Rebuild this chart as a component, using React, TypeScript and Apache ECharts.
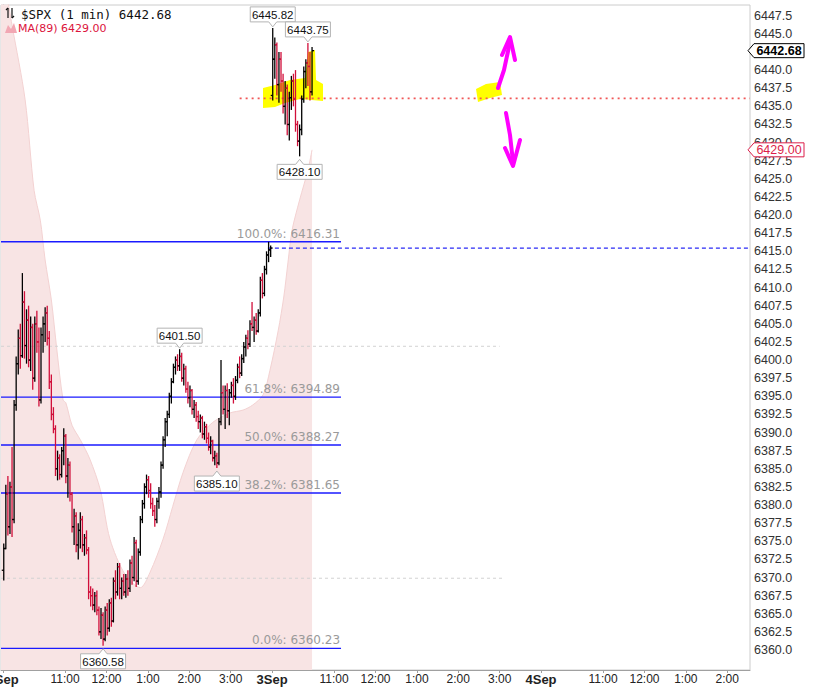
import React, { useEffect, useRef } from 'react';
import * as echarts from 'echarts';

// ---- time axis (minutes from 2 Sep 09:30) ----
const X_MIN = -3;
const X_MAX = 1083;
const BAR_SPAN = 3; // each drawn bar covers 3 one-minute bars
const day1Start = 0; // 2 Sep 09:30
const day2Start = 390; // 3 Sep 09:30

const xTickMinutes = [0, 90, 150, 210, 270, 330, 390, 480, 540, 600, 660, 720, 780, 870, 930, 990, 1050];
const xTickLabels = ['2Sep', '11:00', '12:00', '1:00', '2:00', '3:00', '3Sep', '11:00', '12:00', '1:00', '2:00', '3:00', '4Sep', '11:00', '12:00', '1:00', '2:00'];
const xTickBold = [true, false, false, false, false, false, true, false, false, false, false, false, true, false, false, false, false];

const yTicks = [
  6360.0, 6362.5, 6365.0, 6367.5, 6370.0, 6372.5, 6375.0, 6377.5, 6380.0, 6382.5,
  6385.0, 6387.5, 6390.0, 6392.5, 6395.0, 6397.5, 6400.0, 6402.5, 6405.0, 6407.5,
  6410.0, 6412.5, 6415.0, 6417.5, 6420.0, 6422.5, 6425.0, 6427.5, 6430.0, 6432.5,
  6435.0, 6437.5, 6440.0, 6442.5, 6445.0, 6447.5,
];
// 6442.5 is hidden behind the last-price tag in the reference
const yLabels = [
  6360.0, 6362.5, 6365.0, 6367.5, 6370.0, 6372.5, 6375.0, 6377.5, 6380.0, 6382.5,
  6385.0, 6387.5, 6390.0, 6392.5, 6395.0, 6397.5, 6400.0, 6402.5, 6405.0, 6407.5,
  6410.0, 6412.5, 6415.0, 6417.5, 6420.0, 6422.5, 6425.0, 6427.5, 6430.0, 6432.5,
  6435.0, 6437.5, 6440.0, 6445.0, 6447.5,
];
const Y_MIN = 6357.24;
const Y_MAX = 6448.98;

// ---- price bars [open, high, low, close] ----
const day1Bars = [
  [6371.0, 6374.7, 6369.6, 6374.0], [6374.0, 6382.8, 6373.9, 6381.5], [6381.5, 6384.0, 6375.8, 6377.0], [6377.0, 6383.2, 6376.0, 6382.5],
  [6382.5, 6388.0, 6375.6, 6378.0], [6378.0, 6394.5, 6377.5, 6393.8], [6393.8, 6400.5, 6393.0, 6399.5], [6399.5, 6404.2, 6398.0, 6403.0],
  [6403.0, 6405.0, 6398.8, 6400.6], [6400.6, 6412.0, 6400.3, 6408.0], [6408.0, 6409.5, 6400.2, 6402.0], [6402.0, 6407.0, 6399.5, 6405.5],
  [6405.5, 6407.5, 6399.0, 6400.0], [6400.0, 6406.0, 6398.5, 6404.5], [6404.5, 6405.0, 6395.9, 6397.5], [6397.5, 6406.0, 6397.0, 6405.0],
  [6405.0, 6406.8, 6401.0, 6402.5], [6402.5, 6404.5, 6393.6, 6394.5], [6394.5, 6404.5, 6394.0, 6403.5], [6403.5, 6406.0, 6401.0, 6405.0],
  [6405.0, 6407.3, 6402.5, 6406.5], [6406.5, 6407.5, 6402.0, 6403.0], [6403.0, 6404.0, 6396.0, 6397.0], [6397.0, 6398.0, 6391.7, 6392.5],
  [6392.5, 6393.5, 6389.9, 6390.5], [6390.5, 6391.0, 6384.0, 6385.0], [6385.0, 6387.5, 6383.4, 6386.5], [6386.5, 6387.0, 6383.5, 6384.2],
  [6384.2, 6388.0, 6383.8, 6387.5], [6387.5, 6390.6, 6385.5, 6389.5], [6389.5, 6389.8, 6383.0, 6384.0], [6384.0, 6386.5, 6381.0, 6385.5],
  [6385.5, 6386.0, 6380.5, 6381.5], [6381.5, 6381.8, 6376.2, 6377.0], [6377.0, 6379.5, 6374.5, 6378.5], [6378.5, 6379.0, 6373.5, 6374.5],
  [6374.5, 6377.5, 6372.5, 6376.5], [6376.5, 6379.0, 6374.0, 6378.0], [6378.0, 6378.5, 6373.5, 6374.5], [6374.5, 6376.0, 6373.0, 6375.5],
  [6375.5, 6376.5, 6373.2, 6373.8], [6373.8, 6374.2, 6367.0, 6368.0], [6368.0, 6368.8, 6366.0, 6367.5], [6367.5, 6368.5, 6365.5, 6366.2],
  [6366.2, 6368.0, 6365.2, 6367.5], [6367.5, 6368.2, 6364.8, 6365.5], [6365.5, 6366.0, 6362.0, 6362.5], [6362.5, 6365.8, 6361.5, 6364.8],
  [6364.8, 6365.2, 6360.58, 6361.5], [6361.5, 6366.0, 6361.2, 6365.5], [6365.5, 6366.5, 6362.0, 6363.0], [6363.0, 6367.0, 6362.5, 6366.5],
  [6366.5, 6367.2, 6363.2, 6364.0], [6364.0, 6370.0, 6363.8, 6369.5], [6369.5, 6371.0, 6367.0, 6368.0], [6368.0, 6372.0, 6367.5, 6371.5],
  [6371.5, 6372.0, 6367.0, 6368.5], [6368.5, 6370.0, 6367.0, 6369.5], [6369.5, 6370.5, 6367.5, 6368.0], [6368.0, 6370.5, 6367.2, 6369.8],
  [6369.8, 6371.0, 6367.5, 6368.5], [6368.5, 6372.5, 6368.0, 6372.0], [6372.0, 6373.0, 6369.0, 6370.0], [6370.0, 6375.6, 6369.5, 6374.8],
  [6374.8, 6375.2, 6368.7, 6369.5], [6369.5, 6374.0, 6369.0, 6373.5], [6373.5, 6378.5, 6373.0, 6378.0], [6378.0, 6380.7, 6377.5, 6380.2],
  [6380.2, 6383.0, 6379.5, 6382.5], [6382.5, 6384.2, 6381.5, 6383.5], [6383.5, 6384.0, 6381.0, 6382.0], [6382.0, 6383.0, 6379.5, 6380.2],
  [6380.2, 6381.0, 6378.5, 6379.2], [6379.2, 6380.0, 6377.0, 6378.0], [6378.0, 6381.0, 6377.5, 6380.5], [6380.5, 6382.5, 6379.5, 6381.8],
  [6381.8, 6386.0, 6381.0, 6385.5], [6385.5, 6389.5, 6385.0, 6389.0], [6389.0, 6392.0, 6388.0, 6391.5], [6391.5, 6393.0, 6389.5, 6392.5],
  [6392.5, 6395.5, 6392.0, 6395.0], [6395.0, 6397.5, 6394.0, 6397.0], [6397.0, 6399.5, 6396.8, 6399.0], [6399.0, 6400.5, 6398.0, 6400.0],
  [6400.0, 6400.8, 6398.5, 6399.2], [6399.2, 6401.5, 6398.5, 6400.5], [6400.5, 6401.0, 6397.0, 6397.5], [6397.5, 6399.5, 6396.5, 6398.8],
  [6398.8, 6399.2, 6395.5, 6396.0], [6396.0, 6397.0, 6394.0, 6394.8], [6394.8, 6396.5, 6393.5, 6395.8], [6395.8, 6396.0, 6392.5, 6393.2],
  [6393.2, 6394.5, 6392.0, 6393.8], [6393.8, 6394.2, 6391.5, 6392.2], [6392.2, 6393.0, 6390.5, 6391.5], [6391.5, 6392.5, 6390.0, 6392.0],
  [6392.0, 6392.3, 6389.2, 6389.8], [6389.8, 6391.5, 6389.0, 6390.8], [6390.8, 6391.2, 6388.5, 6389.2], [6389.2, 6390.0, 6387.5, 6388.0],
  [6388.0, 6389.5, 6387.0, 6388.8], [6388.8, 6389.0, 6386.0, 6386.5], [6386.5, 6387.5, 6385.5, 6386.8], [6386.8, 6387.2, 6385.1, 6385.8],
  [6385.8, 6392.0, 6385.5, 6391.5], [6391.5, 6400.0, 6391.0, 6395.5], [6395.5, 6396.5, 6392.5, 6393.2], [6393.2, 6396.5, 6390.5, 6395.8],
  [6395.8, 6396.8, 6392.0, 6393.0], [6393.0, 6396.0, 6391.0, 6395.5], [6395.5, 6397.0, 6394.8, 6396.5], [6396.5, 6397.5, 6394.0, 6395.0],
  [6395.0, 6397.8, 6394.5, 6397.2], [6397.2, 6399.5, 6396.8, 6399.0], [6399.0, 6400.5, 6397.5, 6398.2], [6398.2, 6400.8, 6397.8, 6400.2],
  [6400.2, 6402.5, 6399.6, 6401.8], [6401.8, 6403.5, 6400.5, 6403.0], [6403.0, 6404.1, 6401.5, 6402.2], [6402.2, 6405.5, 6401.8, 6405.0],
  [6405.0, 6408.0, 6404.0, 6404.5], [6404.5, 6406.0, 6402.5, 6405.5], [6405.5, 6406.5, 6403.5, 6404.0], [6404.0, 6407.0, 6403.8, 6406.5],
  [6406.5, 6411.5, 6406.0, 6411.0], [6411.0, 6412.0, 6408.5, 6409.2], [6409.2, 6413.0, 6408.8, 6412.5], [6412.5, 6415.0, 6411.8, 6414.5],
  [6414.5, 6416.31, 6413.5, 6415.2], [6415.2, 6415.8, 6414.2, 6415.45],
];

const day2Bars = [
  [6436.5, 6445.82, 6435.8, 6441.5], [6441.5, 6444.5, 6438.8, 6443.5], [6443.5, 6443.8, 6436.5, 6438.0], [6438.0, 6442.5, 6435.5, 6441.5],
  [6441.5, 6442.5, 6437.0, 6438.5], [6438.5, 6439.5, 6434.0, 6435.0], [6435.0, 6438.5, 6432.5, 6437.5], [6437.5, 6438.0, 6431.0, 6432.5],
  [6432.5, 6437.0, 6430.3, 6436.2], [6436.2, 6439.2, 6434.5, 6438.5], [6438.5, 6439.5, 6435.0, 6436.0], [6436.0, 6440.0, 6431.5, 6432.5],
  [6432.5, 6433.0, 6429.5, 6430.2], [6430.2, 6432.5, 6428.1, 6431.8], [6431.8, 6436.5, 6431.0, 6436.0], [6436.0, 6440.5, 6435.5, 6439.8],
  [6439.8, 6441.5, 6437.5, 6441.0], [6441.0, 6443.75, 6437.8, 6440.5], [6440.5, 6442.5, 6435.8, 6437.0], [6437.0, 6443.2, 6436.5, 6442.68],
];

// ---- MA(89) ----
const maMinutes = [-3, 13, 32, 45, 54, 61, 70, 78, 87, 91, 100, 112, 126, 141, 155, 177, 199, 213, 232, 246, 261, 281, 304, 329, 348, 362, 377, 387, 399, 407, 413, 419, 430, 442, 448];
const maValues = [6454.9, 6446.2, 6435.9, 6423.4, 6419.3, 6413.8, 6408.3, 6401.4, 6394.5, 6394.1, 6391.0, 6389.0, 6386.3, 6382.1, 6375.3, 6370.4, 6368.6, 6370.7, 6375.3, 6379.8, 6384.5, 6389.0, 6391.4, 6392.7, 6393.1, 6393.8, 6395.2, 6398.6, 6404.1, 6408.7, 6413.4, 6417.9, 6422.1, 6426.2, 6429.0];

// ---- Fibonacci retracement ----
const fibLevels = ['100.0%', '61.8%', '50.0%', '38.2%', '0.0%'];
const fibPrices = [6416.31, 6394.89, 6388.27, 6381.65, 6360.23];
const fibEndMinute = 490;

// ---- swing labels ----
const pivotMinutes = [391, 442, 430, 256, 310, 145];
const pivotPrices = [6445.82, 6443.75, 6428.1, 6401.5, 6385.1, 6360.58];
const pivotAbove = [1, 1, 0, 1, 0, 0];

// ---- horizontal reference lines ----
const refStarts = [-3, -3, 384, 343];
const refEnds = [720, 727, 1083, 1083];
const refPrices = [6401.9, 6369.9, 6415.45, 6436.1];

const lastPrice = 6442.68;
const maLast = 6429.0;

const UP = '#000000';
const DOWN = '#d10f3a';

function barData(bars: number[][], start: number) {
  return bars.map((b, i) => [start + BAR_SPAN * i + 1, b[0], b[1], b[2], b[3]]);
}

export default function App() {
  const ref = useRef<HTMLDivElement>(null);
  useEffect(() => {
    const chart = echarts.init(ref.current as HTMLDivElement, null, { renderer: 'svg' });

    const ohlc = [...barData(day1Bars, day1Start), ...barData(day2Bars, day2Start)];

    const refStyles = [
      { color: '#d2d2d2', type: [3, 3], width: 1 },
      { color: '#d2d2d2', type: [3, 3], width: 1 },
      { color: '#2a2af5', type: [4, 3], width: 1.2 },
      { color: '#f05656', type: [2, 4], width: 1.6 },
    ];

    const refSeries = refPrices.map((p, i) => ({
      type: 'line',
      z: 3,
      silent: true,
      symbol: 'none',
      data: [[refStarts[i], p], [refEnds[i], p]],
      lineStyle: refStyles[i],
    }));

    const option: any = {
      animation: false,
      grid: {
        left: 1, right: 70, top: 5, bottom: 18,
        containLabel: false, outerBoundsMode: 'none',
        show: true, borderColor: '#cccccc', borderWidth: 1,
      },
      xAxis: {
        type: 'value',
        min: X_MIN,
        max: X_MAX,
        splitLine: { show: false },
        axisLine: { lineStyle: { color: '#a0a0a0' } },
        axisTick: { show: true, customValues: xTickMinutes, length: 3, lineStyle: { color: '#a0a0a0' } },
        axisLabel: {
          customValues: xTickMinutes,
          margin: 3,
          color: '#222',
          fontFamily: 'Liberation Sans',
          fontSize: 12,
          hideOverlap: false,
          formatter: (v: number) => {
            const i = xTickMinutes.indexOf(v);
            if (i < 0) return '';
            return xTickBold[i] ? '{b|' + xTickLabels[i] + '}' : xTickLabels[i];
          },
          rich: {
            b: { fontFamily: '"Liberation Sans Narrow", "Liberation Sans"', fontWeight: 'bold', fontSize: 13, color: '#222' },
          },
        },
      },
      yAxis: {
        type: 'value',
        position: 'right',
        min: Y_MIN,
        max: Y_MAX,
        splitLine: { show: false },
        axisLine: { show: true, lineStyle: { color: '#a0a0a0' } },
        axisTick: { show: true, customValues: yTicks, length: 3, lineStyle: { color: '#777' } },
        axisLabel: {
          customValues: yLabels,
          margin: 4,
          color: '#333',
          fontFamily: 'Liberation Sans',
          fontSize: 12.5,
          formatter: (v: number) => v.toFixed(1),
        },
      },
      series: [
        {
          type: 'line',
          name: 'MA(89)',
          z: 1,
          silent: true,
          symbol: 'none',
          smooth: 0.3,
          data: maMinutes.map((m, i) => [m, maValues[i]]),
          lineStyle: { color: '#f3d2d2', width: 1 },
          areaStyle: { color: '#f8e4e4', origin: 'start', opacity: 1 },
        },
        ...refSeries,
        {
          type: 'custom',
          name: 'fib',
          z: 3,
          silent: true,
          data: fibPrices.map((p, i) => [fibEndMinute, p, i]),
          encode: { x: 0, y: 1 },
          renderItem: (_params: any, api: any) => {
            const p = api.value(1);
            const i = api.value(2);
            const a = api.coord([X_MIN, p]);
            const b = api.coord([api.value(0), p]);
            return {
              type: 'group',
              children: [
                { type: 'line', shape: { x1: a[0], y1: a[1], x2: b[0], y2: b[1] }, style: { stroke: '#1a1aff', lineWidth: 1.4 } },
                {
                  type: 'text',
                  style: {
                    text: fibLevels[i] + ': ' + p.toFixed(2),
                    x: b[0] - 1,
                    y: b[1] - 2,
                    align: 'right',
                    verticalAlign: 'bottom',
                    fill: '#9a9a9a',
                    font: '12px "DejaVu Sans"',
                  },
                },
              ],
            };
          },
        },
        {
          type: 'custom',
          name: '$SPX',
          z: 4,
          silent: true,
          data: ohlc,
          encode: { x: 0, y: [1, 2, 3, 4] },
          renderItem: (_params: any, api: any) => {
            const m = api.value(0);
            const o = api.value(1);
            const h = api.value(2);
            const l = api.value(3);
            const c = api.value(4);
            const pH = api.coord([m, h]);
            const pL = api.coord([m, l]);
            const pO = api.coord([m, o]);
            const pC = api.coord([m, c]);
            const color = c >= o ? UP : DOWN;
            const x = pH[0];
            const st = { stroke: color, lineWidth: 1.3 };
            return {
              type: 'group',
              children: [
                { type: 'line', shape: { x1: x, y1: pH[1], x2: x, y2: pL[1] }, style: st },
                { type: 'line', shape: { x1: x - 2, y1: pO[1], x2: x, y2: pO[1] }, style: st },
                { type: 'line', shape: { x1: x, y1: pC[1], x2: x + 2, y2: pC[1] }, style: st },
              ],
            };
          },
        },
        {
          type: 'custom',
          name: 'pivots',
          z: 5,
          silent: true,
          data: pivotMinutes.map((m, i) => [m, pivotPrices[i], pivotAbove[i]]),
          encode: { x: 0, y: 1 },
          renderItem: (params: any, api: any) => {
            const c = api.coord([api.value(0), api.value(1)]);
            const above = api.value(2) > 0;
            const w = 45;
            const h = 15;
            const cx = c[0];
            let pts: number[][];
            let ty: number;
            if (above) {
              const bottom = c[1] - 6;
              const top = bottom - h;
              const tip = c[1] - 1;
              pts = [[cx - w / 2, top], [cx + w / 2, top], [cx + w / 2, bottom], [cx + 4, bottom], [cx, tip], [cx - 4, bottom], [cx - w / 2, bottom]];
              ty = (top + bottom) / 2;
            } else {
              const top = c[1] + 8;
              const bottom = top + h;
              const tip = c[1] + 3;
              pts = [[cx - w / 2, top], [cx - 4, top], [cx, tip], [cx + 4, top], [cx + w / 2, top], [cx + w / 2, bottom], [cx - w / 2, bottom]];
              ty = (top + bottom) / 2;
            }
            return {
              type: 'group',
              children: [
                { type: 'polygon', shape: { points: pts }, style: { fill: '#ffffff', stroke: '#b4b4b4', lineWidth: 1 } },
                {
                  type: 'text',
                  style: {
                    text: pivotPrices[params.dataIndex].toFixed(2),
                    x: cx,
                    y: ty + 0.5,
                    align: 'center',
                    verticalAlign: 'middle',
                    fill: '#111',
                    font: '11.5px "Liberation Sans"',
                  },
                },
              ],
            };
          },
        },
        {
          type: 'custom',
          name: 'tags',
          z: 6,
          silent: true,
          clip: false,
          data: [[X_MAX, lastPrice, 0], [X_MAX, maLast, 1]],
          encode: { x: 0, y: 1 },
          renderItem: (params: any, api: any) => {
            const c = api.coord([api.value(0), api.value(1)]);
            const isMa = api.value(2) > 0;
            const x0 = c[0] - 2;
            const y = c[1];
            const pts = [[x0, y], [x0 + 6, y - 7], [x0 + 56, y - 7], [x0 + 56, y + 7], [x0 + 6, y + 7]];
            const col = isMa ? '#dc1e4a' : '#000';
            return {
              type: 'group',
              children: [
                { type: 'polygon', shape: { points: pts }, style: { fill: '#ffffff', stroke: col, lineWidth: 1 } },
                {
                  type: 'text',
                  style: {
                    text: (isMa ? maLast : lastPrice).toFixed(2),
                    x: x0 + 31,
                    y: y + 0.5,
                    align: 'center',
                    verticalAlign: 'middle',
                    fill: col,
                    font: (isMa ? '' : 'bold ') + '12.5px "Liberation Sans"',
                  },
                },
              ],
            };
          },
        },
      ],
      graphic: {
        elements: [
          // highlighter marks
          {
            type: 'polygon',
            z: 2,
            silent: true,
            shape: { points: [[263, 88], [275, 85], [290, 80], [305, 78], [308, 52], [315, 50], [316, 80], [323, 84], [323, 101], [300, 99], [285, 103], [275, 107], [263, 108]] },
            style: { fill: '#ffff00' },
          },
          {
            type: 'polygon',
            z: 2,
            silent: true,
            shape: { points: [[476, 89], [486, 84], [500, 82], [502, 95], [490, 98], [478, 102]] },
            style: { fill: '#ffff00' },
          },
          // magenta arrows
          { type: 'polyline', z: 10, silent: true, shape: { points: [[498, 88], [504, 70], [510, 42]] }, style: { stroke: '#ff00ff', lineWidth: 4, lineCap: 'round', lineJoin: 'round', fill: null } },
          { type: 'polyline', z: 10, silent: true, shape: { points: [[502, 55], [510, 37], [515, 60]] }, style: { stroke: '#ff00ff', lineWidth: 4, lineCap: 'round', lineJoin: 'round', fill: null } },
          { type: 'polyline', z: 10, silent: true, shape: { points: [[506, 113], [510, 135], [513, 162]] }, style: { stroke: '#ff00ff', lineWidth: 4, lineCap: 'round', lineJoin: 'round', fill: null } },
          { type: 'polyline', z: 10, silent: true, shape: { points: [[505, 148], [513, 166], [520, 140]] }, style: { stroke: '#ff00ff', lineWidth: 4, lineCap: 'round', lineJoin: 'round', fill: null } },
          // legend: OHLC icon
          { type: 'line', z: 10, silent: true, shape: { x1: 8, y1: 8, x2: 8, y2: 18 }, style: { stroke: '#111', lineWidth: 1.2 } },
          { type: 'line', z: 10, silent: true, shape: { x1: 6, y1: 10, x2: 8, y2: 8 }, style: { stroke: '#111', lineWidth: 1.2 } },
          { type: 'line', z: 10, silent: true, shape: { x1: 12, y1: 8, x2: 12, y2: 18 }, style: { stroke: '#111', lineWidth: 1.2 } },
          { type: 'line', z: 10, silent: true, shape: { x1: 12, y1: 18, x2: 14, y2: 16 }, style: { stroke: '#111', lineWidth: 1.2 } },
          {
            type: 'text', z: 10, silent: true, x: 21, y: 14,
            style: { text: '$SPX (1 min) ' + lastPrice.toFixed(2), font: '12.5px "DejaVu Sans Mono"', fill: '#111', verticalAlign: 'middle' },
          },
          // legend: MA icon
          { type: 'polygon', z: 10, silent: true, shape: { points: [[5, 33], [8, 25], [11, 29], [14, 23], [17, 33]] }, style: { fill: '#f2a7b3' } },
          {
            type: 'text', z: 10, silent: true, x: 18, y: 28,
            style: { text: 'MA(89) ' + maLast.toFixed(2), font: '11px "DejaVu Sans"', fill: '#dc143c', verticalAlign: 'middle' },
          },
        ],
      },
    };

    chart.setOption(option);
    return () => chart.dispose();
  }, []);

  return <div ref={ref} style={{ position: 'fixed', left: 0, top: 0, width: 820, height: 688, background: '#ffffff' }} />;
}
